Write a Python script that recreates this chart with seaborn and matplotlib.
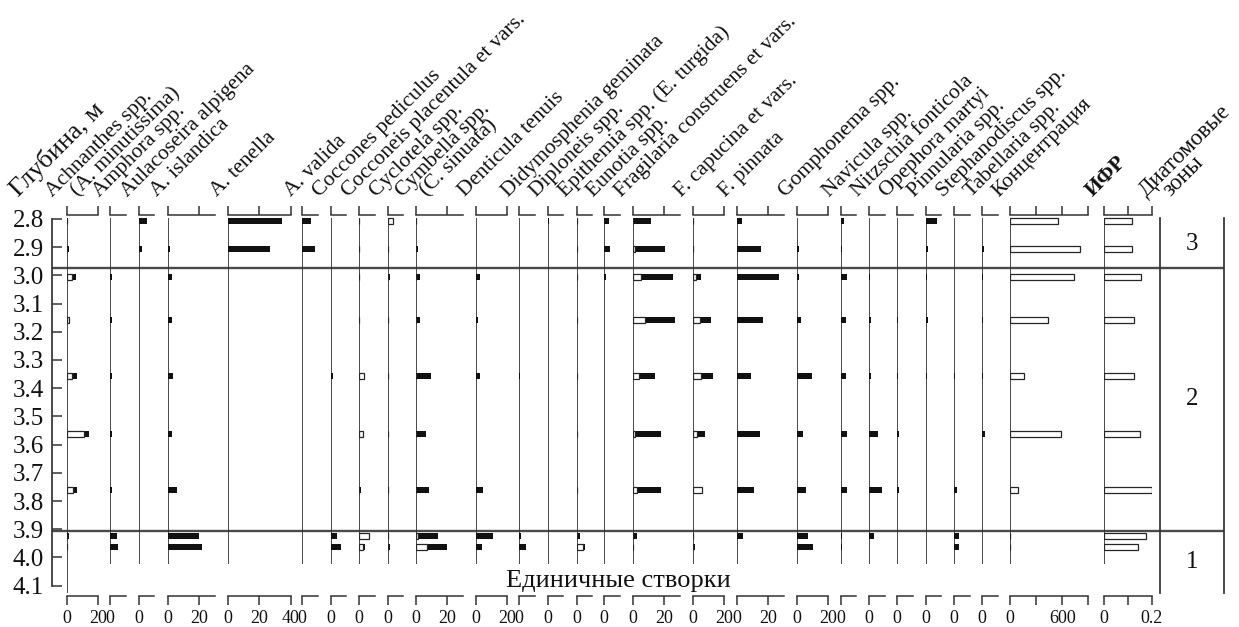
import matplotlib
matplotlib.use("Agg")
import matplotlib.pyplot as plt
import numpy as np
import pandas as pd
import seaborn as sns

# ---------------- data ----------------
depths = [2.806, 2.906, 3.006, 3.157, 3.357, 3.562, 3.762, 3.924, 3.963]

achnanthes = [1.0, 1.5, 5.7, 1.7, 6.4, 14.2, 6.8, 1.5, 0.6]
a_minutissima = [0, 0, 3.2, 1.7, 3.6, 11.2, 4.2, 0, 0]
amphora = [0, 0, 0.8, 0.8, 0.8, 0.8, 0.8, 4.2, 4.7]
aulacoseira_alpigena = [5.1, 1.9, 0, 0, 0, 0, 0, 0, 0]
a_islandica = [0, 1.3, 2.5, 3.0, 3.6, 2.5, 6.2, 20.2, 22.0]
a_tenella = [34.4, 27.2, 0, 0, 0, 0, 0, 0, 0]
a_valida = [5.7, 7.9, 0, 0, 0, 0, 0, 0, 0]
coccones_pediculus = [0, 0, 0, 0, 1.5, 0, 0, 3.8, 6.4]
cocconeis_placentula = [0, 0, 0, 0, 3.2, 2.5, 1.3, 6.6, 3.8]
cocconeis_vars = [0, 0, 0, 0, 3.2, 2.5, 0, 6.6, 2.5]
cyclotela = [3.2, 0, 1.3, 0, 0, 0, 0.8, 0.8, 1.5]
cyclotela_open = [3.2, 0, 0, 0, 0, 0, 0, 0, 0]
cymbella = [0, 1.5, 2.3, 2.8, 9.3, 6.2, 8.5, 13.8, 19.7]
c_sinuata = [0, 0, 0, 0, 0, 0, 0, 1.0, 7.2]
denticula_tenuis = [0, 0, 2.8, 1.3, 2.8, 0, 4.7, 11.0, 3.6]
didymosphenia = [0, 0, 0, 0, 0.6, 0, 0, 1.3, 4.2]
diploneis = [1.0, 0, 0, 0, 0, 0, 0, 0, 0]
epithemia = [0, 0, 0, 0, 0, 0, 0, 2.3, 5.3]
e_turgida = [0, 0, 0, 0, 0, 0, 0, 0, 3.8]
eunotia = [3.0, 3.4, 1.1, 0, 0, 0, 0, 0, 0]
fragilaria_construens = [11.5, 20.4, 25.5, 27.0, 14.2, 17.8, 18.3, 3.0, 0]
fragilaria_construens_vars = [0, 1.7, 5.5, 8.1, 4.0, 1.5, 2.5, 0, 0]
f_capucina = [0, 1.0, 5.1, 11.7, 13.2, 7.9, 6.2, 0, 1.3]
f_capucina_vars = [0, 0, 1.9, 4.5, 5.1, 2.8, 6.2, 0, 0]
f_pinnata = [3.4, 15.3, 27.0, 17.0, 8.9, 14.7, 11.0, 3.8, 0]
gomphonema = [0, 1.3, 1.3, 3.0, 10.0, 3.8, 6.1, 7.0, 10.5]
navicula = [2.3, 0.6, 3.8, 3.2, 3.2, 3.8, 4.2, 1.0, 0.6]
nitzschia_fonticola = [0, 0, 0.6, 1.3, 1.0, 5.5, 8.0, 3.4, 0]
opephora_martyi = [0, 0, 0, 0.6, 0.6, 0.8, 1.3, 0, 0]
pinnularia = [7.4, 1.7, 1.0, 1.7, 0.8, 0, 0, 0, 0]
stephanodiscus = [0, 0, 0, 0, 0.5, 0, 1.7, 3.4, 3.4]
tabellaria = [0, 1.0, 0.6, 0.6, 0.6, 1.7, 0, 0, 0]
concentration = [555, 802, 737, 430, 163, 585, 84, 0, 0]
ifr = [0.116, 0.116, 0.157, 0.124, 0.127, 0.151, 0.200, 0.175, 0.144]

zone_boundaries = [2.975, 3.905]
zone_names = ["3", "2", "1"]
depth_ticks = [round(2.8 + 0.1 * i, 1) for i in range(14)]

# header lines, total, open part, axis max, ticks, tick labels
panels = [
    (["Achnanthes spp.", "(A. minutissima)"], achnanthes, a_minutissima, 20, [0, 20], ["0", "20"]),
    (["Amphora spp."], amphora, None, 10, [0], ["0"]),
    (["Aulacoseira alpigena"], aulacoseira_alpigena, None, 10, [0], ["0"]),
    (["A. islandica"], a_islandica, None, 30, [0, 20], ["0", "20"]),
    (["A. tenella"], a_tenella, None, 40, [0, 20, 40], ["0", "20", "40"]),
    (["A. valida"], a_valida, None, 10, [0], ["0"]),
    (["Coccones pediculus"], coccones_pediculus, None, 10, [0], ["0"]),
    (["Cocconeis placentula et vars."], cocconeis_placentula, cocconeis_vars, 10, [0], ["0"]),
    (["Cyclotela spp."], cyclotela, cyclotela_open, 10, [0], ["0"]),
    (["Cymbella spp.", "(C. sinuata)"], cymbella, c_sinuata, 30, [0, 20], ["0", "20"]),
    (["Denticula tenuis"], denticula_tenuis, None, 20, [0, 20], ["0", "20"]),
    (["Didymosphenia geminata"], didymosphenia, None, 10, [0], ["0"]),
    (["Diploneis spp."], diploneis, None, 10, [0], ["0"]),
    (["Epithemia spp. (E. turgida)"], epithemia, e_turgida, 10, [0], ["0"]),
    (["Eunotia spp."], eunotia, None, 10, [0], ["0"]),
    (["Fragilaria construens et vars."], fragilaria_construens, fragilaria_construens_vars, 30, [0, 20], ["0", "20"]),
    (["F. capucina et vars."], f_capucina, f_capucina_vars, 20, [0, 20], ["0", "20"]),
    (["F. pinnata"], f_pinnata, None, 30, [0, 20], ["0", "20"]),
    (["Gomphonema spp."], gomphonema, None, 20, [0, 20], ["0", "20"]),
    (["Navicula spp."], navicula, None, 10, [0], ["0"]),
    (["Nitzschia fonticola"], nitzschia_fonticola, None, 10, [0], ["0"]),
    (["Opephora martyi"], opephora_martyi, None, 10, [0], ["0"]),
    (["Pinnularia spp."], pinnularia, None, 10, [0], ["0"]),
    (["Stephanodiscus spp."], stephanodiscus, None, 10, [0], ["0"]),
    (["Tabellaria spp."], tabellaria, None, 10, [0], ["0"]),
    (["Концентрация"], None, concentration, 900, [0, 300, 600, 900], ["0", "", "600", ""]),
    (["ИФР"], None, ifr, 0.2, [0, 0.1, 0.2], ["0", "", "0.2"]),
]

# ---------------- layout (pixels) ----------------
W, H, DPI = 1239, 627, 100
TOP_PX, BOT_PX = 215, 596
Y0_PX, Y0_DEPTH, PX_PER_M = 219, 2.8, 282.0
panel_left = [66.7, 110.3, 138.7, 167.7, 227.7, 302.3, 330.7, 359.0, 387.7, 416.0,
              476.0, 519.3, 547.7, 576.7, 604.3, 632.7, 692.7, 736.7, 796.7, 840.7,
              869.0, 897.3, 925.7, 954.0, 982.3, 1010.3, 1104.0]
px_per_unit = [1.57] * 25 + [78.0 / 900, 47.7 / 0.2]
DEPTH_AXIS_X = 52
ZONE_LEFT, ZONE_RIGHT = 1160, 1224
HEADER_BASE = 197
LINE_TOP, LINE_BOT, LONG_BOT = 2.795, 4.025, 4.125
BAR_W = 0.52

LINE = "#333333"
BAR = "#111111"


def depth_at(py):
    return Y0_DEPTH + (py - Y0_PX) / PX_PER_M


YLIM = (depth_at(BOT_PX), depth_at(TOP_PX))

sns.set_theme(style="white")
plt.rcParams["font.family"] = ["Liberation Serif", "DejaVu Serif"]
plt.rcParams["text.color"] = "#111111"

fig = plt.figure(figsize=(W / DPI, H / DPI), dpi=DPI)


def add_px_axes(left, width, top=TOP_PX, bottom=BOT_PX, z=1):
    ax = fig.add_axes([left / W, 1 - bottom / H, width / W, (bottom - top) / H], zorder=z)
    ax.patch.set_visible(False)
    return ax


def header(x_px, text, size=15.5, weight="normal", y_px=HEADER_BASE):
    fig.text(x_px / W, 1 - y_px / H, text, rotation=45, rotation_mode="anchor",
             ha="left", va="baseline", fontsize=size, fontweight=weight)


# zone boundary lines across the whole diagram
axb = add_px_axes(DEPTH_AXIS_X, ZONE_RIGHT - DEPTH_AXIS_X, z=0)
axb.set_ylim(*YLIM)
axb.set_axis_off()
for b in zone_boundaries:
    axb.axhline(b, color="#4a4a4a", lw=1.7)

# one strip per taxon
for i, (lines, total, part, xmax, ticks, labels) in enumerate(panels):
    left = panel_left[i]
    ax = add_px_axes(left, xmax * px_per_unit[i], z=2)
    bottom = LONG_BOT if i == 0 else LINE_BOT
    ax.vlines(0, LINE_TOP, bottom, color=LINE, lw=1.25, zorder=0.5)

    df = pd.DataFrame({"depth": depths,
                       "total": total if total is not None else [0] * len(depths),
                       "part": part if part is not None else [0] * len(depths)})
    if total is not None:
        sns.barplot(data=df, x="total", y="depth", orient="y", native_scale=True,
                    color=BAR, width=BAR_W, errorbar=None, saturation=1,
                    linewidth=0, ax=ax)
    if part is not None:
        sns.barplot(data=df, x="part", y="depth", orient="y", native_scale=True,
                    color="white", width=BAR_W, errorbar=None, saturation=1,
                    edgecolor="#262626", linewidth=0.9, ax=ax)

    ax.set_xlim(0, xmax)
    ax.set_ylim(*YLIM)
    ax.set_xlabel("")
    ax.set_ylabel("")
    ax.set_yticks([])
    for s in ("left", "right"):
        ax.spines[s].set_visible(False)
    for s in ("top", "bottom"):
        ax.spines[s].set_visible(True)
        ax.spines[s].set_color(LINE)
        ax.spines[s].set_linewidth(1.1)
    ax.set_xticks(ticks, labels)
    ax.tick_params(axis="x", top=True, bottom=True, labeltop=False, labelbottom=True,
                   direction="out", length=6.3, width=1.1, color=LINE, pad=3.5,
                   labelsize=13, labelcolor="#111111")

    if len(lines) == 1:
        weight = "bold" if lines[0] == "ИФР" else "normal"
        header(left - 11, lines[0], weight=weight)
    else:
        header(left - 14, lines[0])
        header(left + 11, lines[1])

# depth axis
axd = add_px_axes(DEPTH_AXIS_X, 20, z=2)
axd.set_ylim(*YLIM)
for s in ("top", "right", "bottom"):
    axd.spines[s].set_visible(False)
axd.spines["left"].set_visible(True)
axd.spines["left"].set_color(LINE)
axd.spines["left"].set_linewidth(1.25)
axd.spines["left"].set_bounds(depth_ticks[0], depth_ticks[-1])
axd.set_xticks([])
axd.set_yticks(depth_ticks, [f"{d:.1f}" for d in depth_ticks])
axd.tick_params(axis="y", left=True, right=False, direction="in", length=7.2,
                width=1.1, color=LINE, pad=6, labelsize=18, labelcolor="#111111")
header(18, "Глубина, м", size=19)

# diatom zones column
axz = add_px_axes(ZONE_LEFT, ZONE_RIGHT - ZONE_LEFT, z=2)
axz.set_ylim(*YLIM)
axz.set_xlim(0, 1)
axz.set_xticks([])
axz.set_yticks([])
for s in ("top", "bottom"):
    axz.spines[s].set_visible(False)
for s in ("left", "right"):
    axz.spines[s].set_visible(True)
    axz.spines[s].set_color(LINE)
    axz.spines[s].set_linewidth(1.25)
    axz.spines[s].set_bounds(LINE_TOP, LONG_BOT)
edges = [depth_ticks[0]] + zone_boundaries + [LONG_BOT]
for name, top, bot in zip(zone_names, edges[:-1], edges[1:]):
    axz.text(0.5, (top + bot) / 2, name, ha="center", va="center", fontsize=18)
header(ZONE_LEFT - 14, "Диатомовые", size=16.5)
header(ZONE_LEFT + 10, "зоны", size=16.5)

fig.text(618 / W, 1 - 587 / H, "Единичные створки", ha="center", va="baseline",
         fontsize=19)

fig.savefig("out.png", dpi=DPI, facecolor="white")
